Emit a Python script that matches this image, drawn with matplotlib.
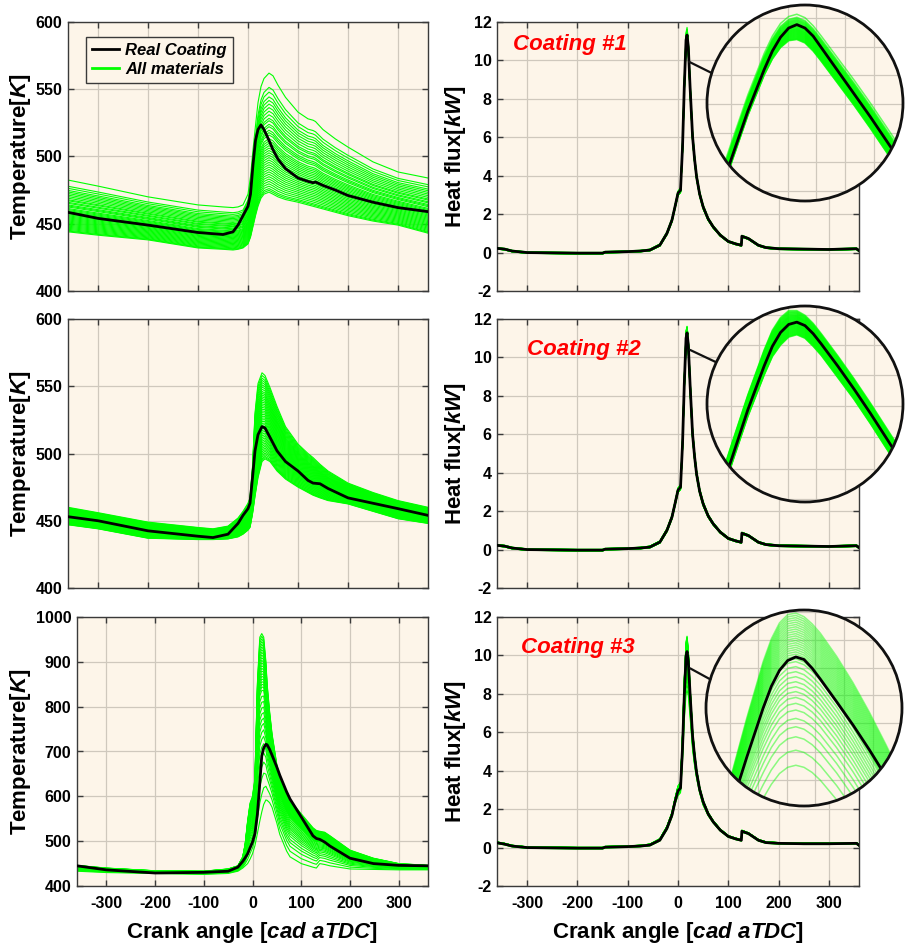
import matplotlib.pyplot as plt
from matplotlib.patches import Circle, ConnectionPatch
from matplotlib.lines import Line2D
import numpy as np

plt.rcParams['font.family'] = ['Liberation Sans', 'DejaVu Sans']
plt.rcParams['mathtext.fontset'] = 'custom'
plt.rcParams['mathtext.it'] = 'Liberation Sans:italic:bold'
plt.rcParams['mathtext.rm'] = 'Liberation Sans:bold'
plt.rcParams['axes.unicode_minus'] = False

# ---------------- data ----------------
# temperature, row 1 (coating #1)
t1_x = [-360, -300, -200, -100, -50, -30, -20, -10, 0, 5, 10, 15, 20, 26, 32, 42, 50, 60, 75, 100,
        120, 130, 135, 150, 175, 200, 250, 300, 360]
t1_real = [458.5, 454, 449, 443.5, 442, 444, 449, 456, 463, 472, 494, 512, 520, 523.5, 520, 512, 505, 498, 491, 484,
           481.5, 480.5, 481, 478.5, 475, 471, 466, 462, 459]
t1_top = [482.5, 478, 470, 464, 462.5, 462, 462.5, 464, 472, 485, 505, 523, 540, 552, 558, 562, 560, 553, 544, 533,
          528, 527, 526, 520, 513, 507, 496, 488.5, 484]
t1_bot = [444, 441.5, 438, 432, 431, 430.5, 431, 432, 435, 440, 448, 456, 463, 469, 472, 473.5, 472, 470, 468, 466,
          464, 463, 462.5, 461, 458.5, 456, 452, 449, 443]

# temperature, row 2 (coating #2)
t2_x = [-360, -300, -200, -100, -70, -40, -20, -10, 0, 4, 9, 14, 20, 28, 34, 44, 58, 75, 100, 120,
        130, 144, 160, 200, 250, 300, 360]
t2_real = [453, 450, 442.5, 438.5, 437.5, 440, 448, 454, 459, 463, 482, 502, 514, 520, 519, 512, 502, 494, 487, 480,
           478, 477.5, 474, 467, 463, 459, 454]
t2_top = [460, 456, 449, 445, 444, 446, 452, 457, 463, 467, 490, 530, 552, 560, 558, 549, 535, 520, 507, 500,
          497, 492, 487, 478, 471, 465, 460]
t2_bot = [447, 444, 437, 436, 436, 436.5, 438, 440, 443, 445, 455, 468, 482, 494, 496, 494, 487, 481, 475, 471,
          469, 467, 465, 462.5, 457, 451.5, 448]

# temperature, row 3 (coating #3)
t3_x = [-360, -300, -200, -100, -50, -30, -20, -15, -10, -5, 0, 5, 10, 15, 19, 23, 27.5, 30, 35, 40,
        50, 56, 70, 77, 100, 124, 131, 138, 148, 159, 200, 248, 300, 360]
t3_real = [445, 436, 429, 430.5, 433, 442, 455, 463, 472, 485, 498, 517, 560, 630, 690, 708, 716, 715, 705, 692,
           665, 647, 610, 594, 554, 512, 506, 504, 498, 489, 462, 450, 446, 445]
t3_top = [446, 440, 434, 433, 438, 445, 465, 494, 545, 585, 600, 640, 851, 955, 963, 955, 900, 851, 790, 740,
          670, 643, 605, 591, 561, 530, 524, 522, 520, 512, 480, 462, 450, 446]
t3_bot = [433, 430, 428, 426, 428, 433, 440, 445, 450, 460, 472, 490, 517, 545, 565, 582, 592, 591, 586, 576,
          540, 515, 478, 465, 450, 442, 440, 450, 448, 445, 438, 437, 436, 436]

# heat flux (kW), shared crank-angle samples
hf_x = [-360, -345, -330, -300, -200, -150, -145, -100, -75, -56, -36, -22, -12, -6, 0, 5, 9, 12.5, 16, 18,
        20.5, 24, 29, 33, 37, 43, 50, 60, 70, 84, 100, 115, 126, 127, 140, 160, 175, 200, 250, 300, 355, 360]
hf_real_1 = [0.22, 0.18, 0.08, 0.0, -0.03, -0.03, 0.02, 0.05, 0.08, 0.13, 0.39, 1.0, 1.69, 2.38, 3.09, 3.25, 5.5, 8.63, 11.06, 11.32,
             10.7, 8.63, 6.03, 4.85, 3.94, 3.05, 2.38, 1.75, 1.34, 0.91, 0.58, 0.45, 0.38, 0.85, 0.73, 0.38, 0.26, 0.2, 0.18, 0.16, 0.2, 0.1]
hf_top_1 = [0.26, 0.22, 0.12, 0.04, 0.01, 0.01, 0.06, 0.09, 0.12, 0.18, 0.45, 1.08, 1.78, 2.48, 3.2, 3.38, 5.8, 9.0, 11.45, 11.72,
            11.1, 9.0, 6.3, 5.05, 4.1, 3.18, 2.48, 1.82, 1.4, 0.96, 0.62, 0.49, 0.42, 0.9, 0.77, 0.42, 0.3, 0.24, 0.22, 0.2, 0.24, 0.14]
hf_bot_1 = [0.18, 0.14, 0.04, -0.04, -0.07, -0.07, -0.02, 0.01, 0.04, 0.09, 0.34, 0.93, 1.6, 2.28, 2.98, 3.12, 5.2, 8.3, 10.7, 10.95,
            10.35, 8.3, 5.8, 4.68, 3.8, 2.95, 2.28, 1.68, 1.28, 0.86, 0.54, 0.41, 0.34, 0.8, 0.69, 0.34, 0.22, 0.16, 0.14, 0.12, 0.16, 0.06]

hf_real_2 = [0.22, 0.18, 0.08, 0.0, -0.03, -0.03, 0.02, 0.05, 0.08, 0.13, 0.39, 1.0, 1.69, 2.38, 3.09, 3.25, 5.5, 8.6, 11.0, 11.28,
             10.65, 8.6, 6.0, 4.83, 3.92, 3.04, 2.38, 1.75, 1.34, 0.91, 0.58, 0.45, 0.38, 0.85, 0.73, 0.38, 0.26, 0.2, 0.18, 0.16, 0.2, 0.1]
hf_top_2 = [0.26, 0.22, 0.12, 0.04, 0.01, 0.01, 0.06, 0.09, 0.12, 0.18, 0.45, 1.08, 1.78, 2.48, 3.2, 3.38, 5.75, 8.95, 11.38, 11.62,
            11.0, 8.95, 6.25, 5.02, 4.08, 3.17, 2.48, 1.82, 1.4, 0.96, 0.62, 0.49, 0.42, 0.9, 0.77, 0.42, 0.3, 0.24, 0.22, 0.2, 0.24, 0.14]
hf_bot_2 = [0.18, 0.14, 0.04, -0.04, -0.07, -0.07, -0.02, 0.01, 0.04, 0.09, 0.34, 0.93, 1.6, 2.28, 2.98, 3.12, 5.2, 8.25, 10.6, 10.88,
            10.3, 8.25, 5.75, 4.66, 3.78, 2.94, 2.28, 1.68, 1.28, 0.86, 0.54, 0.41, 0.34, 0.8, 0.69, 0.34, 0.22, 0.16, 0.14, 0.12, 0.16, 0.06]

hf_real_3 = [0.25, 0.18, 0.08, 0.0, -0.03, -0.03, 0.02, 0.05, 0.08, 0.13, 0.39, 1.0, 1.69, 2.38, 2.95, 3.1, 5.2, 7.9, 9.95, 10.2,
             9.7, 8.0, 5.8, 4.75, 3.9, 3.03, 2.38, 1.75, 1.34, 0.91, 0.58, 0.45, 0.38, 0.85, 0.73, 0.38, 0.26, 0.22, 0.2, 0.2, 0.22, 0.12]
hf_top_3 = [0.29, 0.22, 0.12, 0.04, 0.01, 0.01, 0.06, 0.09, 0.12, 0.18, 0.46, 1.1, 1.82, 2.55, 3.2, 3.4, 5.9, 8.8, 10.7, 11.0,
            10.3, 8.4, 6.1, 4.95, 4.05, 3.15, 2.45, 1.82, 1.4, 0.96, 0.62, 0.49, 0.42, 0.9, 0.77, 0.42, 0.3, 0.26, 0.24, 0.24, 0.26, 0.16]
hf_bot_3 = [0.21, 0.14, 0.04, -0.04, -0.07, -0.07, -0.02, 0.01, 0.04, 0.09, 0.34, 0.93, 1.58, 2.25, 2.7, 2.85, 4.5, 6.6, 8.0, 8.2,
            7.9, 6.8, 5.1, 4.25, 3.6, 2.85, 2.2, 1.66, 1.28, 0.86, 0.54, 0.41, 0.34, 0.8, 0.69, 0.34, 0.22, 0.18, 0.16, 0.16, 0.18, 0.08]

# magnified peak (lens) samples
lens_x = [11.0, 11.5, 12.5, 13.5, 14.0, 14.5, 15.0, 15.5, 16.0, 16.5, 17.0, 18.0, 19.0, 20.0, 21.0, 22.0]
lens_real_1 = [10.36, 10.57, 10.98, 11.34, 11.50, 11.62, 11.70, 11.73, 11.70, 11.63, 11.53, 11.33, 11.13, 10.93, 10.72, 10.51]
lens_top_1 = [10.50, 10.71, 11.12, 11.48, 11.63, 11.74, 11.80, 11.82, 11.79, 11.72, 11.63, 11.44, 11.25, 11.05, 10.84, 10.63]
lens_bot_1 = [10.32, 10.53, 10.94, 11.29, 11.43, 11.53, 11.59, 11.60, 11.57, 11.50, 11.41, 11.22, 11.03, 10.83, 10.62, 10.41]
lens_real_2 = [10.36, 10.57, 11.00, 11.38, 11.55, 11.67, 11.74, 11.76, 11.73, 11.66, 11.57, 11.38, 11.18, 10.97, 10.75, 10.53]
lens_top_2 = [10.48, 10.70, 11.13, 11.52, 11.69, 11.80, 11.86, 11.86, 11.82, 11.75, 11.66, 11.47, 11.27, 11.06, 10.84, 10.62]
lens_bot_2 = [10.31, 10.52, 10.94, 11.30, 11.46, 11.56, 11.63, 11.65, 11.62, 11.55, 11.47, 11.28, 11.09, 10.88, 10.66, 10.44]
lens_real_3 = [6.85, 7.35, 8.35, 9.30, 9.72, 10.03, 10.22, 10.29, 10.24, 10.07, 9.86, 9.42, 8.97, 8.49, 7.98, 7.45]
lens_top_3 = [7.35, 7.94, 9.11, 10.20, 10.64, 10.95, 11.11, 11.14, 11.07, 10.93, 10.75, 10.30, 9.79, 9.22, 8.60, 7.95]
lens_bot_3 = [6.00, 6.35, 6.97, 7.55, 7.82, 8.03, 8.15, 8.19, 8.15, 8.05, 7.90, 7.52, 7.08, 6.60, 6.08, 5.54]

# position of each material between the lowest and highest curve
mat_1 = [1.0, 0.88, 0.84, 0.80, 0.77, 0.74, 0.71, 0.68, 0.65, 0.62, 0.60, 0.57, 0.55, 0.52, 0.50, 0.48, 0.45,
         0.43, 0.41, 0.39, 0.37, 0.35, 0.33, 0.31, 0.29, 0.27, 0.25, 0.23, 0.21, 0.19, 0.17, 0.15, 0.13, 0.11,
         0.09, 0.07, 0.05, 0.03, 0.015, 0.0]
mat_2 = [1.0, 0.97, 0.94, 0.915, 0.89, 0.865, 0.84, 0.815, 0.79, 0.77, 0.75, 0.73, 0.71, 0.69, 0.67, 0.65, 0.63,
         0.61, 0.59, 0.57, 0.55, 0.53, 0.51, 0.49, 0.47, 0.45, 0.43, 0.41, 0.39, 0.37, 0.35, 0.33, 0.31, 0.29,
         0.27, 0.25, 0.23, 0.21, 0.19, 0.17, 0.15, 0.13, 0.11, 0.09, 0.07, 0.05, 0.03, 0.015, 0.0]
mat_3 = [1.0, 0.985, 0.97, 0.955, 0.94, 0.925, 0.91, 0.895, 0.88, 0.865, 0.85, 0.835, 0.82, 0.805, 0.79, 0.775,
         0.76, 0.745, 0.73, 0.715, 0.70, 0.681, 0.648, 0.615, 0.582, 0.549, 0.516, 0.484, 0.446, 0.407, 0.363,
         0.308, 0.253, 0.187, 0.099, 0.0]

coating_names = ['Coating #1', 'Coating #2', 'Coating #3']
lens_anchor = [(22, 9.93), (24, 10.39), (24, 9.33)]

# ---------------- styling ----------------
W, H = 905, 946
BG = '#fdf5e9'
GREEN = '#00ff00'
GRIDC = '#cfc8bd'
SPINE = '#3a3a3a'

fig = plt.figure(figsize=(W / 100, H / 100), dpi=100)


def px_axes(x0, y0, x1, y1):
    return fig.add_axes([x0 / W, 1 - y1 / H, (x1 - x0) / W, (y1 - y0) / H])


def style(ax, ylim, ystep, show_x):
    ax.set_facecolor(BG)
    ax.set_xlim(-360, 360)
    ax.set_xticks(range(-300, 301, 100))
    ax.set_ylim(*ylim)
    ax.set_yticks(np.arange(ylim[0], ylim[1] + 0.01, ystep))
    ax.grid(True, color=GRIDC, lw=0.9)
    ax.set_axisbelow(True)
    ax.tick_params(direction='in', top=True, right=True, length=4, width=1, color=SPINE,
                   labelsize=11.5, pad=4)
    ax.tick_params(axis='x', pad=7, labelbottom=show_x)
    for lbl in ax.get_xticklabels() + ax.get_yticklabels():
        lbl.set_fontweight('bold')
    for s in ax.spines.values():
        s.set_color(SPINE)
        s.set_linewidth(1)


def draw_family(ax, x, real, top, bot, mats, lw_g=0.8, alpha=1.0, lw_k=2.0, clip=None):
    x = np.asarray(x)
    top = np.asarray(top)
    bot = np.asarray(bot)
    lines = []
    for m in mats:
        ln, = ax.plot(x, bot + m * (top - bot), color=GREEN, lw=lw_g, alpha=alpha, zorder=2)
        lines.append(ln)
    k, = ax.plot(x, real, color='black', lw=lw_k, zorder=3)
    lines.append(k)
    if clip is not None:
        for ln in lines:
            ln.set_clip_path(clip)


def add_lens(ax_main, cx, cy, ylim, ygrid, real, top, bot, mats, alpha, anchor, edge):
    R = 98
    ins = fig.add_axes([(cx - R) / W, 1 - (cy + R) / H, 2 * R / W, 2 * R / H])
    ins.set_xlim(10, 22)
    ins.set_ylim(*ylim)
    ins.axis('off')
    face = Circle((0.5, 0.5), 0.5, transform=ins.transAxes, facecolor=BG, edgecolor='none', zorder=0)
    ins.add_patch(face)
    for gx in [9.7, 11.45, 13.2, 14.95, 16.7, 18.45, 20.2, 21.95]:
        ln = ins.axvline(gx, color=GRIDC, lw=0.9, zorder=1)
        ln.set_clip_path(face)
    for gy in ygrid:
        ln = ins.axhline(gy, color=GRIDC, lw=0.9, zorder=1)
        ln.set_clip_path(face)
    draw_family(ins, lens_x, real, top, bot, mats, lw_g=1.1, alpha=alpha, lw_k=2.0, clip=face)
    rim = Circle((0.5, 0.5), 0.5, transform=ins.transAxes, fill=False, edgecolor='#111111',
                 lw=2.0, zorder=10, clip_on=False)
    ins.add_patch(rim)
    con = ConnectionPatch(xyA=anchor, coordsA=ax_main.transData, xyB=edge, coordsB=ins.transAxes,
                          color='#111111', lw=1.6)
    fig.add_artist(con)


rows_y = [(22, 291), (319, 588), (617, 886)]
left_x = [(68, 428), (68, 428), (77, 428)]
temp_data = [(t1_x, t1_real, t1_top, t1_bot), (t2_x, t2_real, t2_top, t2_bot), (t3_x, t3_real, t3_top, t3_bot)]
hf_data = [(hf_real_1, hf_top_1, hf_bot_1), (hf_real_2, hf_top_2, hf_bot_2), (hf_real_3, hf_top_3, hf_bot_3)]
mats = [mat_1, mat_2, mat_3]
temp_lims = [(400, 600, 50), (400, 600, 50), (400, 1000, 100)]
lens_info = [
    (805, 103, (10.2, 11.9), [10.29, 10.54, 10.79, 11.04, 11.29, 11.54, 11.79], lens_real_1, lens_top_1, lens_bot_1, 0.6, (0.024, 0.653)),
    (805, 404, (10.2, 11.9), [10.23, 10.49, 10.76, 11.03, 11.30, 11.56, 11.82], lens_real_2, lens_top_2, lens_bot_2, 0.6, (0.047, 0.713)),
    (804, 708, (7.4, 11.2), [7.35, 7.90, 8.45, 9.0, 9.55, 10.07, 10.62, 11.17], lens_real_3, lens_top_3, lens_bot_3, 0.45, (0.022, 0.646)),
]
coating_pos = [(0.043, 0.915), (0.083, 0.885), (0.066, 0.885)]

label_kw = dict(fontsize=16, fontweight='bold')

for i in range(3):
    y0, y1 = rows_y[i]
    last = i == 2

    # temperature panel
    axT = px_axes(left_x[i][0], y0, left_x[i][1], y1)
    x, real, top, bot = temp_data[i]
    draw_family(axT, x, real, top, bot, mats[i])
    lo, hi, st = temp_lims[i]
    style(axT, (lo, hi), st, last)
    axT.set_ylabel('Temperature[$\\mathit{K}$]', **label_kw)
    axT.yaxis.set_label_coords((33 - left_x[i][0]) / (left_x[i][1] - left_x[i][0]), 0.5)
    if last:
        axT.set_xlabel('Crank angle [$\\mathit{cad\\ aTDC}$]', **label_kw)
        axT.xaxis.set_label_coords(0.5, -0.125)

    # heat flux panel
    axH = px_axes(497, y0, 859, y1)
    real, top, bot = hf_data[i]
    draw_family(axH, hf_x, real, top, bot, mats[i], lw_g=0.8)
    style(axH, (-2, 12), 2, last)
    axH.set_ylabel('Heat flux[$\\mathit{kW}$]', **label_kw)
    axH.yaxis.set_label_coords((468 - 497) / 362, 0.5)
    if last:
        axH.set_xlabel('Crank angle [$\\mathit{cad\\ aTDC}$]', **label_kw)
        axH.xaxis.set_label_coords(0.5, -0.125)
    axH.text(coating_pos[i][0], coating_pos[i][1], coating_names[i], transform=axH.transAxes,
             color='#ff0000', fontsize=16, fontweight='bold', fontstyle='italic', va='center', ha='left')

    cx, cy, ylim, ygrid, lr, lt, lb, alpha, edge = lens_info[i]
    add_lens(axH, cx, cy, ylim, ygrid, lr, lt, lb, mats[i], alpha, lens_anchor[i], edge)

    if i == 0:
        handles = [Line2D([], [], color='black', lw=2), Line2D([], [], color=GREEN, lw=2)]
        leg = axT.legend(handles, ['Real Coating', 'All materials'], loc='upper left',
                         bbox_to_anchor=(0.05, 0.945), borderaxespad=0, fancybox=False,
                         framealpha=1, facecolor=BG, edgecolor=SPINE, handlelength=1.6,
                         handletextpad=0.4, borderpad=0.35, labelspacing=0.25,
                         prop={'family': 'Liberation Sans', 'weight': 'bold', 'style': 'italic', 'size': 12})
        leg.get_frame().set_linewidth(1.0)

fig.savefig('out.png', dpi=100)
